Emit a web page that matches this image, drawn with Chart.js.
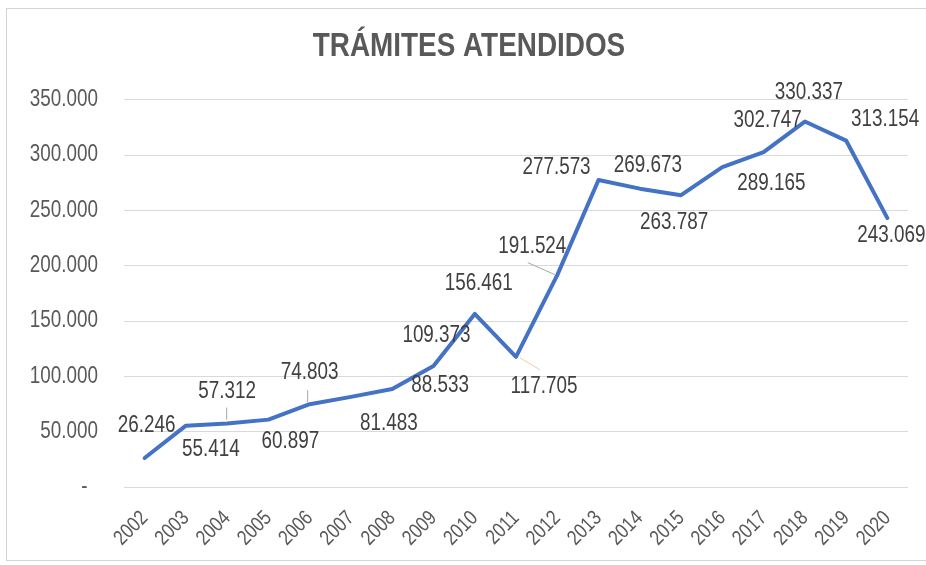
<!DOCTYPE html>
<html>
<head>
<meta charset="utf-8">
<script src="https://cdn.jsdelivr.net/npm/chart.js@4.4.1/dist/chart.umd.min.js"></script>
<style>
  html, body { margin: 0; padding: 0; background: #ffffff; overflow: hidden; }
  #wrap { position: relative; width: 926px; height: 565px; }
  #frame { position: absolute; left: 6px; top: 8px; width: 960px; height: 553px; border: 1px solid #d4d4d4; box-sizing: border-box; }
  canvas { position: absolute; left: 0; top: 0; }
</style>
</head>
<body>
<div id="wrap">
  <div id="frame"></div>
  <canvas id="c" width="926" height="565"></canvas>
</div>
<script>
const chartTitle = 'TRÁMITES ATENDIDOS';
const years = ['2002','2003','2004','2005','2006','2007','2008','2009','2010','2011','2012','2013','2014','2015','2016','2017','2018','2019','2020'];
const tramites = [26246, 55414, 57312, 60897, 74803, 81483, 88533, 109373, 156461, 117705, 191524, 277573, 269673, 263787, 289165, 302747, 330337, 313154, 243069];
const yTicks = [0, 50000, 100000, 150000, 200000, 250000, 300000, 350000];

// label placement (offset of label centre from its point), as in the reference
const labelOffsets = [[2,-32],[25,24],[0,-32],[22,22],[0,-32],[38,27],[48,-3],[3,-30],[4,-30],[28,30],[-25,-28],[-42,-12],[8,-23],[-7,27],[49,17],[4,-31],[4,-29],[39,-21],[4,18]];
// leader lines: index -> [x1,y1,x2,y2] relative to point, colour
const leaderLines = [
  [2, [-0.5,-16,-0.5,-4], '#a6a6a6'],
  [4, [-2,-14,-2,-2], '#a6a6a6'],
  [9, [4,1,24,13], '#f2c9a0'],
  [10, [-29.5,-12.5,-2.5,-0.5], '#a6a6a6']
];

const FONT = '"Liberation Sans", Arial, sans-serif';
const NARROW = 0.82; // condensed look of the original (Arial Narrow-like)

const canvas = document.getElementById('c');
const c2d = canvas.getContext('2d');
const origFill = c2d.fillText.bind(c2d);
const origMeasure = c2d.measureText.bind(c2d);
c2d.fillText = function (t, x, y, mw) {
  this.save();
  this.translate(x, y);
  this.scale(NARROW, 1);
  origFill(t, 0, 0);
  this.restore();
};
c2d.measureText = function (t) {
  const m = origMeasure(t);
  return {
    width: m.width * NARROW,
    actualBoundingBoxAscent: m.actualBoundingBoxAscent,
    actualBoundingBoxDescent: m.actualBoundingBoxDescent,
    actualBoundingBoxLeft: m.actualBoundingBoxLeft * NARROW,
    actualBoundingBoxRight: m.actualBoundingBoxRight * NARROW
  };
};

function fmt(v) {
  if (v === 0) return '-  ';
  return String(Math.round(v)).replace(/\B(?=(\d{3})+(?!\d))/g, '.');
}

const labelPlugin = {
  id: 'pointLabels',
  afterDatasetsDraw(chart) {
    const ctx = chart.ctx;
    const meta = chart.getDatasetMeta(0);
    ctx.save();
    leaderLines.forEach(([i, seg, col]) => {
      const p = meta.data[i];
      ctx.strokeStyle = col;
      ctx.lineWidth = 1;
      ctx.beginPath();
      ctx.moveTo(p.x + seg[0], p.y + seg[1]);
      ctx.lineTo(p.x + seg[2], p.y + seg[3]);
      ctx.stroke();
    });
    ctx.font = '23px ' + FONT;
    ctx.fillStyle = '#404040';
    ctx.textAlign = 'center';
    ctx.textBaseline = 'middle';
    meta.data.forEach((p, i) => {
      const off = labelOffsets[i];
      ctx.fillText(fmt(tramites[i]), p.x + off[0], p.y + off[1]);
    });
    ctx.restore();
  }
};

new Chart(canvas, {
  type: 'line',
  data: {
    labels: years,
    datasets: [{
      data: tramites,
      borderColor: '#4472C4',
      borderWidth: 4,
      borderJoinStyle: 'round',
      borderCapStyle: 'round',
      pointRadius: 0,
      pointHoverRadius: 0,
      tension: 0,
      fill: false
    }]
  },
  options: {
    responsive: false,
    animation: false,
    events: [],
    layout: { padding: { left: 30, right: 18, top: 0, bottom: 0 } },
    plugins: {
      legend: { display: false },
      tooltip: { enabled: false },
      title: {
        display: true,
        text: chartTitle,
        color: '#595959',
        font: { family: FONT, size: 34, weight: 'bold', lineHeight: 1.2 },
        padding: { top: 26, bottom: 33 }
      }
    },
    scales: {
      x: {
        offset: true,
        grid: { display: false, drawTicks: false },
        border: { display: false },
        ticks: {
          autoSkip: false,
          minRotation: 45,
          maxRotation: 45,
          padding: 19,
          color: '#595959',
          font: { family: FONT, size: 21 }
        },
        afterFit(scale) { scale.height = 78; }
      },
      y: {
        min: 0,
        max: 350000,
        grid: { color: '#d9d9d9', lineWidth: 1, drawTicks: false },
        border: { display: false },
        afterBuildTicks(scale) { scale.ticks = yTicks.map(v => ({ value: v })); },
        afterFit(scale) { scale.width = 94; },
        ticks: {
          padding: 26,
          color: '#595959',
          font: { family: FONT, size: 23 },
          callback: (v) => fmt(v)
        }
      }
    }
  },
  plugins: [labelPlugin]
});
</script>
</body>
</html>
